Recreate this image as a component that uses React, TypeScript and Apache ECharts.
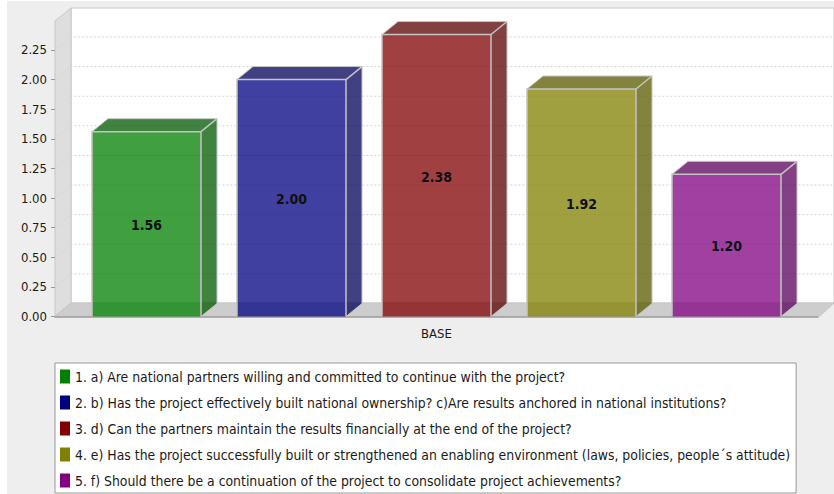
import React, { useEffect, useRef } from "react";
import * as echarts from "echarts";

const categories = ["BASE"];
const seriesNames = [
  "1. a) Are national partners willing and committed to continue with the project?",
  "2. b) Has the project effectively built national ownership? c)Are results anchored in national institutions?",
  "3. d) Can the partners maintain the results financially at the end of the project?",
  "4. e) Has the project successfully built or strengthened an enabling environment (laws, policies, people´s attitude)",
  "5. f) Should there be a continuation of the project to consolidate project achievements?",
];
const seriesValues = [1.56, 2.0, 2.38, 1.92, 1.2];
const seriesColors = ["#008000", "#000080", "#800000", "#808000", "#800080"];
const sideColors = ["#005a00", "#00005a", "#5a0000", "#5a5a00", "#5a005a"];
const tickValues = [0, 0.25, 0.5, 0.75, 1, 1.25, 1.5, 1.75, 2, 2.25];

const FONT = "'DejaVu Sans Condensed', 'DejaVu Sans'";
const DX = 16;
const DY = -13;
const BAR_W = 109;
const BAR_STEP = 145;
const EDGE = "#c4c4c4";

export default function App() {
  const ref = useRef<HTMLDivElement>(null);
  useEffect(() => {
    document.body.style.margin = "0";
    const chart = echarts.init(ref.current!, undefined, { renderer: "svg" });

    const gridSeries = {
      type: "custom",
      name: "grid",
      silent: true,
      clip: false,
      z: 1,
      data: tickValues.slice(1).map((t) => [0, t]),
      encode: { x: 0, y: 1 },
      renderItem: (_p: any, api: any) => {
        const y = api.coord([0, api.value(1)])[1];
        const lineStyle = { stroke: "#d4d4d4", lineWidth: 1, lineDash: [2, 2], fill: "none" };
        return {
          type: "polyline",
          shape: { points: [[55, y], [55 + DX, y + DY], [833, y + DY]] },
          style: lineStyle,
        };
      },
    };

    const barSeries = seriesNames.map((name, i) => ({
      type: "custom",
      name,
      clip: false,
      z: 3 + i,
      itemStyle: { color: seriesColors[i] },
      data: [[0, seriesValues[i]]],
      encode: { x: 0, y: 1 },
      renderItem: (_p: any, api: any) => {
        const base = api.coord([0, 0]);
        const topP = api.coord([0, api.value(1)]);
        const cx = base[0] + (i - 2) * BAR_STEP;
        const l = cx - BAR_W / 2;
        const r = cx + BAR_W / 2;
        const t = topP[1];
        const b = base[1];
        const edge = { stroke: EDGE, lineWidth: 1.5 };
        return {
          type: "group",
          children: [
            {
              type: "polygon",
              shape: { points: [[r, t], [r + DX, t + DY], [r + DX, b + DY], [r, b]] },
              style: { fill: sideColors[i], opacity: 0.75 },
            },
            {
              type: "polygon",
              shape: { points: [[l, t], [l + DX, t + DY], [r + DX, t + DY], [r, t]] },
              style: { fill: sideColors[i], opacity: 0.75 },
            },
            {
              type: "rect",
              shape: { x: l, y: t, width: BAR_W, height: b - t },
              style: { fill: seriesColors[i], opacity: 0.75 },
            },
            {
              type: "polyline",
              shape: { points: [[l, b], [l, t], [r, t], [r, b]] },
              style: { ...edge, fill: "none" },
            },
            {
              type: "polyline",
              shape: { points: [[l, t], [l + DX, t + DY], [r + DX, t + DY], [r + DX, b + DY], [r, b]] },
              style: { ...edge, fill: "none", lineWidth: 1 },
            },
            {
              type: "line",
              shape: { x1: r, y1: t, x2: r + DX, y2: t + DY },
              style: edge,
            },
            {
              type: "text",
              x: cx,
              y: (t + b) / 2 + 1,
              style: {
                text: api.value(1).toFixed(2),
                fill: "#101010",
                font: `bold 14px ${FONT}`,
                align: "center",
                verticalAlign: "middle",
              },
            },
          ],
        };
      },
    }));

    chart.setOption({
      animation: false,
      backgroundColor: "#ffffff",
      textStyle: { fontFamily: FONT },
      graphic: [
        { type: "rect", z: -10, shape: { x: 7, y: 1, width: 827, height: 493 }, style: { fill: "#eeeeee" } },
        { type: "rect", z: -9, shape: { x: 71, y: 8, width: 763, height: 295 }, style: { fill: "#ffffff", stroke: "#c8c8c8", lineWidth: 1 } },
        { type: "polygon", z: -8, shape: { points: [[55, 21], [71, 8], [71, 303], [55, 316]] }, style: { fill: "#dedede", stroke: "#c8c8c8", lineWidth: 1 } },
        { type: "polygon", z: -8, shape: { points: [[55, 316], [71, 303], [834, 303], [820, 316]] }, style: { fill: "#cdcdcd", stroke: "#c8c8c8", lineWidth: 1 } },
      ],
      grid: { left: 55, top: 21.5, width: 763, height: 295, containLabel: false },
      xAxis: {
        type: "category",
        data: categories,
        axisLine: { show: true, lineStyle: { color: "#999999", width: 1.5 } },
        axisTick: { show: false },
        axisLabel: { color: "#1a1a1a", fontFamily: FONT, fontSize: 13, margin: 10 },
      },
      yAxis: {
        type: "value",
        min: 0,
        max: 2.49,
        splitLine: { show: false },
        axisLine: { show: false },
        axisTick: { show: true, length: 4, lineStyle: { color: "#999999" }, customValues: tickValues },
        axisLabel: {
          color: "#1a1a1a",
          fontFamily: FONT,
          fontSize: 13,
          margin: 8,
          customValues: tickValues,
          formatter: (v: number) => v.toFixed(2),
        },
      },
      legend: {
        orient: "vertical",
        left: 55,
        top: 363,
        padding: [6.5, 6, 5.5, 5],
        itemGap: 12,
        itemWidth: 10,
        itemHeight: 14,
        icon: "rect",
        backgroundColor: "#ffffff",
        borderColor: "#999999",
        borderWidth: 1,
        selectedMode: false,
        textStyle: { color: "#1a1a1a", fontFamily: FONT, fontSize: 13.85 },
        data: seriesNames.map((name, i) => ({ name, itemStyle: { color: seriesColors[i] } })),
      },
      series: [gridSeries, ...barSeries],
    });
    return () => chart.dispose();
  }, []);
  return <div ref={ref} style={{ width: 834, height: 494 }} />;
}
